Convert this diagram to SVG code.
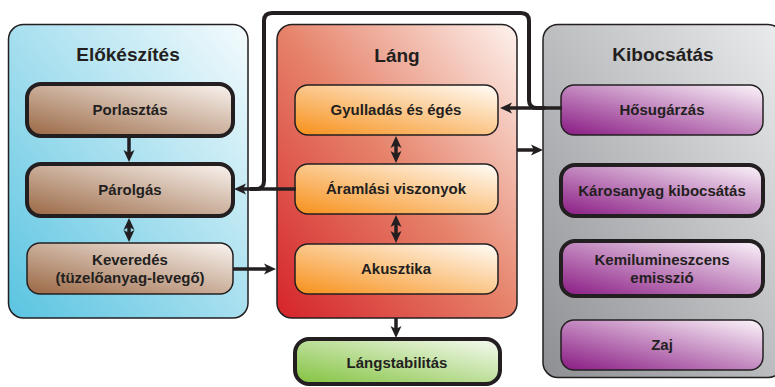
<svg xmlns="http://www.w3.org/2000/svg" width="775" height="387" viewBox="0 0 775 387">
<defs>
<linearGradient id="gBlue" x1="0" y1="1" x2="1" y2="0"><stop offset="0" stop-color="#5ac4e1"/><stop offset="1" stop-color="#f5fbfd"/></linearGradient>
<linearGradient id="gRed" x1="0" y1="1" x2="1" y2="0"><stop offset="0" stop-color="#d5232a"/><stop offset="0.5" stop-color="#e6826a"/><stop offset="1" stop-color="#fdf3ee"/></linearGradient>
<linearGradient id="gGrey" x1="0" y1="1" x2="1" y2="0"><stop offset="0" stop-color="#8d8f93"/><stop offset="1" stop-color="#ebeced"/></linearGradient>
<linearGradient id="gBrown" x1="0" y1="1" x2="1" y2="0"><stop offset="0" stop-color="#9a6743"/><stop offset="1" stop-color="#faf5f1"/></linearGradient>
<linearGradient id="gOrange" x1="0" y1="1" x2="1" y2="0"><stop offset="0" stop-color="#f7901a"/><stop offset="1" stop-color="#fffdf9"/></linearGradient>
<linearGradient id="gPurple" x1="0" y1="1" x2="1" y2="0"><stop offset="0" stop-color="#891a83"/><stop offset="1" stop-color="#fcf6fb"/></linearGradient>
<linearGradient id="gGreen" x1="0" y1="1" x2="1" y2="0"><stop offset="0" stop-color="#82c23e"/><stop offset="1" stop-color="#f7fbf3"/></linearGradient>
<marker id="ah" viewBox="0 0 12 12" refX="6" refY="6" markerWidth="12" markerHeight="12" markerUnits="userSpaceOnUse" orient="auto-start-reverse">
<path d="M0,0.5 L12,6 L0,11.5 L3,6 Z" fill="#231f20"/>
</marker>
<style>
.panel{stroke:#231f20;stroke-width:1.5}
.box{stroke:#231f20;stroke-width:1.5}
.thick{stroke-width:4}
.title{font-family:"Liberation Sans",Arial,sans-serif;font-weight:bold;font-size:19px;fill:#231f20;text-anchor:middle}
.lbl{font-family:"Liberation Sans",Arial,sans-serif;font-weight:bold;font-size:15px;fill:#231f20;text-anchor:middle}
.con{fill:none;stroke:#231f20;stroke-width:4}
.arr{fill:none;stroke:#231f20;stroke-width:3.5;marker-end:url(#ah)}
.darr{fill:none;stroke:#231f20;stroke-width:3.5;marker-start:url(#ah);marker-end:url(#ah)}
</style>
</defs>
<rect width="775" height="387" fill="#ffffff"/>

<g id="panel-elokeszites">
<rect class="panel" x="8.5" y="24.5" width="239.5" height="293.5" rx="15" fill="url(#gBlue)"/>
<text class="title" x="128" y="61">Előkészítés</text>
</g>
<g id="panel-lang">
<rect class="panel" x="277" y="24.5" width="240" height="293.5" rx="15" fill="url(#gRed)"/>
<text class="title" x="397" y="62">Láng</text>
</g>
<g id="panel-kibocsatas">
<rect class="panel" x="543" y="24.5" width="240" height="353" rx="15" fill="url(#gGrey)"/>
<text class="title" x="663" y="61">Kibocsátás</text>
</g>

<g id="porlasztas">
<rect class="box thick" x="27" y="84" width="206" height="52" rx="14" fill="url(#gBrown)"/>
<text class="lbl" x="130" y="115">Porlasztás</text>
</g>
<g id="parolgas">
<rect class="box thick" x="27" y="164" width="206" height="52" rx="14" fill="url(#gBrown)"/>
<text class="lbl" x="130" y="195">Párolgás</text>
</g>
<g id="keveredes">
<rect class="box" x="27" y="243" width="206" height="51" rx="13" fill="url(#gBrown)"/>
<text class="lbl" x="130" y="265">Keveredés</text>
<text class="lbl" x="130" y="283">(tüzelőanyag-levegő)</text>
</g>

<g id="gyulladas">
<rect class="box" x="295" y="85" width="203" height="50" rx="13" fill="url(#gOrange)"/>
<text class="lbl" x="396" y="115">Gyulladás és égés</text>
</g>
<g id="aramlasi">
<rect class="box" x="295" y="164" width="203" height="50" rx="13" fill="url(#gOrange)"/>
<text class="lbl" x="396" y="194">Áramlási viszonyok</text>
</g>
<g id="akusztika">
<rect class="box" x="295" y="244" width="203" height="50" rx="13" fill="url(#gOrange)"/>
<text class="lbl" x="396" y="274">Akusztika</text>
</g>
<g id="langstabilitas">
<rect class="box thick" x="295" y="339" width="205" height="45" rx="14" fill="url(#gGreen)"/>
<text class="lbl" x="397" y="368">Lángstabilitás</text>
</g>

<g id="hosugarzas">
<rect class="box" x="561" y="85" width="202" height="50" rx="13" fill="url(#gPurple)"/>
<text class="lbl" x="662" y="115">Hősugárzás</text>
</g>
<g id="karosanyag">
<rect class="box thick" x="561" y="165" width="202" height="51" rx="14" fill="url(#gPurple)"/>
<text class="lbl" x="662" y="196">Károsanyag kibocsátás</text>
</g>
<g id="kemilumineszcens">
<rect class="box thick" x="561" y="241" width="202" height="55" rx="14" fill="url(#gPurple)"/>
<text class="lbl" x="662" y="265">Kemilumineszcens</text>
<text class="lbl" x="662" y="283">emisszió</text>
</g>
<g id="zaj">
<rect class="box" x="561" y="320" width="202" height="50" rx="13" fill="url(#gPurple)"/>
<text class="lbl" x="662" y="350">Zaj</text>
</g>

<g id="connectors">
<path class="con" d="M545 108 H537 Q529 108 529 100 V21 Q529 13 521 13 H272 Q264 13 264 21 V181 Q264 189 256 189 H250"/>
<path class="arr" d="M129 137 V156"/>
<path class="darr" d="M129 224 V236"/>
<path class="arr" d="M233 269 H270"/>
<path class="arr" d="M296 189 H240"/>
<path class="arr" d="M562 108 H506"/>
<path class="arr" d="M517 150 H537"/>
<path class="darr" d="M396 142 V157"/>
<path class="darr" d="M396 221 V237"/>
<path class="arr" d="M396 318 V332"/>
</g>
</svg>
